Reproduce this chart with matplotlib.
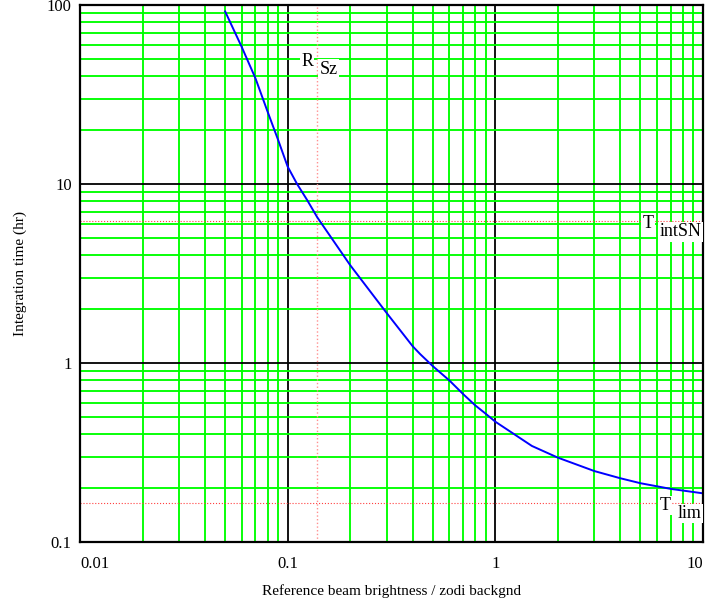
import matplotlib
matplotlib.use("Agg")
import matplotlib.pyplot as plt
from matplotlib.ticker import LogLocator, NullFormatter, FixedLocator, FixedFormatter

# --- Daten ---
brightness = [0.05, 0.06, 0.07, 0.08, 0.09, 0.1, 0.111, 0.124, 0.139, 0.2,
              0.3, 0.4, 0.435, 0.5, 0.6, 0.7, 0.8, 0.9, 1.0, 1.5,
              2.0, 3.0, 4.0, 5.0, 7.0, 10.0]
int_time = [92, 58.5, 38.9, 25.4, 17.6, 12.5, 10.0, 8.15, 6.5, 3.52,
            1.90, 1.24, 1.12, 0.96, 0.80, 0.67, 0.58, 0.52, 0.47, 0.344,
            0.296, 0.249, 0.227, 0.213, 0.198, 0.187]

R_Sz = 0.139       # vertikale Markierung
T_intSN = 6.2      # horizontale Markierung
T_lim = 0.166      # horizontale Markierung

x_ticks = [0.01, 0.1, 1, 10]
x_ticklabels = ["0.01", "0.1", "1", "10"]
y_ticks = [0.1, 1, 10, 100]
y_ticklabels = ["0.1", "1", "10", "100"]

plt.rcParams["font.family"] = ["Liberation Serif", "DejaVu Serif"]

fig = plt.figure(figsize=(7.16, 6.07), dpi=100)
ax = fig.add_axes([80 / 716, 65 / 607, 623 / 716, 537 / 607])

ax.set_xscale("log")
ax.set_yscale("log")
ax.set_xlim(0.01, 10)
ax.set_ylim(0.1, 100)

# Gitter: gruen fuer Zwischenlinien, schwarz fuer Dekaden
ax.xaxis.set_minor_locator(LogLocator(base=10, subs=range(2, 10)))
ax.yaxis.set_minor_locator(LogLocator(base=10, subs=range(2, 10)))
ax.xaxis.set_minor_formatter(NullFormatter())
ax.yaxis.set_minor_formatter(NullFormatter())
ax.grid(which="minor", color="#00ff00", lw=1.35, zorder=0)
ax.grid(which="major", color="black", lw=1.3, zorder=1)
ax.set_axisbelow(True)

ax.xaxis.set_major_locator(FixedLocator(x_ticks))
ax.xaxis.set_major_formatter(FixedFormatter(x_ticklabels))
ax.yaxis.set_major_locator(FixedLocator(y_ticks))
ax.yaxis.set_major_formatter(FixedFormatter(y_ticklabels))
ax.tick_params(which="both", length=0, labelsize=12)
ax.tick_params(axis="x", pad=10)
ax.tick_params(axis="y", pad=6)
xlabels = ax.get_xticklabels()
xlabels[0].set_ha("left")
xlabels[-1].set_ha("right")

for sp in ax.spines.values():
    sp.set_linewidth(1.6)
    sp.set_zorder(5)

# Markierungen
ax.axvline(R_Sz, color="#ff9090", ls=":", lw=1.0, zorder=2)
ax.axhline(T_intSN, color="#ff4040", ls=":", lw=0.8, zorder=2)
ax.axhline(T_lim, color="#ff4040", ls=":", lw=0.8, zorder=2)

# Kurve
ax.plot(brightness, int_time, color="#0000ff", lw=1.4, zorder=4)

box = dict(facecolor="white", edgecolor="none", pad=1)
lbl = dict(transform=ax.transAxes, fontsize=13, ha="center", va="center", zorder=6, bbox=box)
ax.text(0.3644, 0.8957, "R", **lbl)
ax.text(0.399, 0.8808, "Sz", **lbl)
ax.text(0.9117, 0.5922, "T", **lbl)
ax.text(0.964, 0.5773, "intSN", **lbl)
ax.text(0.939, 0.068, "T", **lbl)
ax.text(0.978, 0.0531, "lim", **lbl)

ax.set_xlabel("Reference beam brightness / zodi backgnd", fontsize=11, labelpad=9)
ax.set_ylabel("Integration time (hr)", fontsize=11, labelpad=14)

fig.savefig("out.png", dpi=100)
